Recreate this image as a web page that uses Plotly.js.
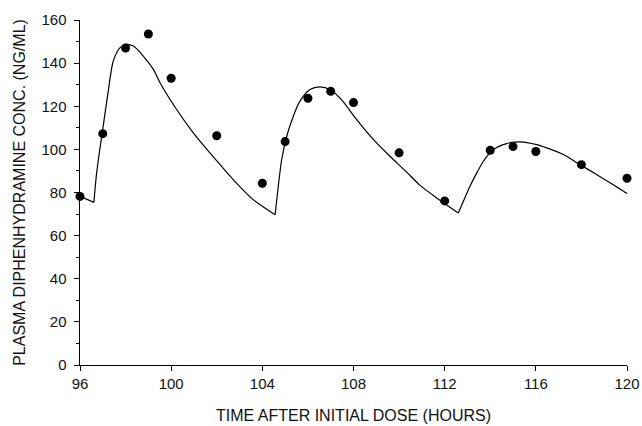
<!DOCTYPE html>
<html>
<head>
<meta charset="utf-8">
<script src="https://cdn.plot.ly/plotly-3.0.1.min.js"></script>
<style>html,body{margin:0;padding:0;background:#fff;}#chart{width:642px;height:426px;}</style>
</head>
<body>
<div id="chart"></div>
<script>
// Observed plasma concentrations (points)
const obsTime = [96, 97, 98, 99, 100, 102, 104, 105, 106, 107, 108, 110, 112, 114, 115, 116, 118, 120];
const obsConc = [78.2, 107.3, 147.0, 153.5, 133.0, 106.3, 84.3, 103.6, 123.7, 126.9, 121.7, 98.4, 76.1, 99.6, 101.3, 99.0, 92.9, 86.6];

// Fitted model curve
const fitTime = [96.0, 96.61, 96.73, 97.02, 97.24, 97.46, 97.76, 98.05, 98.34, 98.71, 99.22, 99.51,
  100.24, 100.97, 101.7, 102.14, 102.88, 103.6, 104.56, 104.7, 104.85, 105.07, 105.36, 105.65, 106.09,
  106.53, 106.97, 107.47, 108.14, 108.87, 109.6, 110.3, 110.92, 111.65, 112.6, 112.82, 113.11,
  113.41, 113.7, 114.13, 114.72, 115.31, 116.04, 116.48, 117.21, 117.94, 118.67, 119.4, 120.0];
const fitConc = [78.2, 75.4, 89.1, 111.0, 127.0, 141.0, 147.2, 148.7, 147.9, 144.1, 137.1, 130.9,
  118.5, 107.7, 98.4, 93.0, 84.2, 76.7, 69.7, 82.9, 95.3, 106.1, 115.4, 122.4, 127.8,
  129.0, 127.8, 123.1, 113.8, 104.6, 96.8, 89.8, 83.3, 77.5, 70.5, 75.9, 82.9,
  89.1, 94.5, 99.9, 102.7, 103.5, 102.2, 100.7, 97.6, 92.9, 88.3, 83.6, 79.5];
// Dose times where the curve turns sharply upward
const doseTurns = [96.61, 104.56, 112.6];

const xTicks = [96, 100, 104, 108, 112, 116, 120];
const yTicks = [0, 20, 40, 60, 80, 100, 120, 140, 160];

const FONT = 'Liberation Sans, Arial, sans-serif';

// split curve into smooth pieces at the dose turns
const bounds = [fitTime[0]].concat(doseTurns, [fitTime[fitTime.length - 1]]);
const traces = [];
for (let s = 0; s < bounds.length - 1; s++) {
  const xs = [], ys = [];
  fitTime.forEach((t, i) => { if (t >= bounds[s] && t <= bounds[s + 1]) { xs.push(t); ys.push(fitConc[i]); } });
  traces.push({x: xs, y: ys, mode: 'lines', type: 'scatter',
    line: {color: '#000', width: 1.2, shape: s === 0 ? 'linear' : 'spline', smoothing: 0.8},
    hoverinfo: 'skip', showlegend: false});
}
traces.push({x: obsTime, y: obsConc, mode: 'markers', type: 'scatter',
  marker: {color: '#000', size: 9}, showlegend: false, cliponaxis: false});

const layout = {
  width: 642, height: 426,
  margin: {l: 80, r: 15, t: 20, b: 61},
  paper_bgcolor: '#fff', plot_bgcolor: '#fff',
  font: {family: FONT, color: '#111', size: 15},
  xaxis: {
    range: [96, 120], tickvals: xTicks, ticktext: xTicks.map(String),
    showgrid: false, zeroline: false, showline: true, linecolor: '#000', linewidth: 1,
    ticks: 'outside', ticklen: 5, tickcolor: '#000', tickwidth: 1,
    tickfont: {family: FONT, size: 15, color: '#111'},
    title: {text: 'TIME AFTER INITIAL DOSE (HOURS)', font: {family: FONT, size: 16, color: '#111'}, standoff: 18}
  },
  yaxis: {
    range: [0, 160], tickvals: yTicks, ticktext: yTicks.map(String),
    showgrid: false, zeroline: false, showline: true, linecolor: '#000', linewidth: 1.5,
    ticks: 'outside', ticklen: 5, tickcolor: '#000', tickwidth: 1,
    ticklabelstandoff: 4,
    minor: {dtick: 10, ticks: 'outside', ticklen: 3, tickcolor: '#000', showgrid: false},
    tickfont: {family: FONT, size: 15, color: '#111'},
    title: {text: 'PLASMA DIPHENHYDRAMINE CONC. (NG/ML)', font: {family: FONT, size: 16, color: '#111'}, standoff: 12}
  }
};

Plotly.newPlot('chart', traces, layout, {displayModeBar: false, staticPlot: true});
</script>
</body>
</html>
